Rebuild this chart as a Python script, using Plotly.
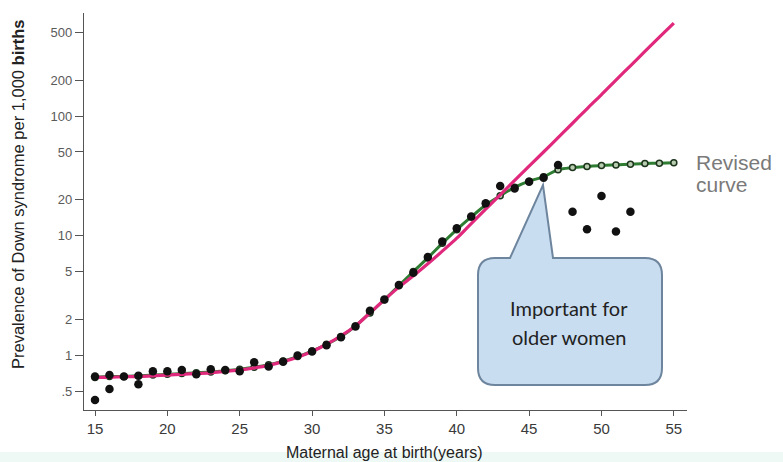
import plotly.graph_objects as go

# ---- data ----
ages = list(range(15, 56))

# old (pink) model curve, per 1,000 births
pink_vals = [0.65, 0.65, 0.66, 0.66, 0.67, 0.68, 0.69, 0.70, 0.71, 0.73,
             0.75, 0.78, 0.82, 0.88, 0.96, 1.07, 1.23, 1.45, 1.75, 2.25,
             2.9, 3.7, 4.6, 5.8, 7.4, 9.5, 12.6, 16.6, 21.9, 28.9,
             38.0, 50, 66, 87, 115, 151, 200, 263, 347, 457, 600]

# revised (green) curve
green_vals = [0.65, 0.66, 0.66, 0.67, 0.68, 0.69, 0.70, 0.71, 0.72, 0.74,
              0.76, 0.79, 0.83, 0.89, 0.97, 1.08, 1.23, 1.43, 1.75, 2.25,
              2.9, 3.8, 5.0, 6.5, 8.6, 11.2, 14.3, 18.0, 21.5, 25.3,
              28.5, 31.0, 35.5, 37.0, 37.8, 38.5, 39.0, 39.5, 40.0, 40.3, 40.6]

# observed prevalence (black dots)
obs_ages = list(range(15, 53)) + [15, 16, 18]
obs_vals = [0.66, 0.68, 0.66, 0.67, 0.73, 0.73, 0.75, 0.69, 0.76, 0.75,
            0.73, 0.87, 0.80, 0.88, 0.99, 1.07, 1.21, 1.41, 1.73, 2.35,
            2.92, 3.85, 4.88, 6.6, 8.9, 11.5, 14.4, 18.6, 26.0, 24.8,
            28.2, 30.5, 38.9, 15.8, 11.3, 21.4, 10.8, 15.8,
            0.42, 0.52, 0.57]

x_ticks = [15, 20, 25, 30, 35, 40, 45, 50, 55]
y_ticks = [0.5, 1, 2, 5, 10, 20, 50, 100, 200, 500]
y_tick_text = [".5", "1", "2", "5", "10", "20", "50", "100", "200", "500"]

# ---- figure ----
W, H = 783, 462
L, R, T, B = 84, 96, 13, 52
pw, ph = W - L - R, H - T - B


def P(x, y):
    return "%.5f,%.5f" % ((x - L) / pw, (H - B - y) / ph)


fig = go.Figure()

fig.add_trace(go.Scatter(
    x=ages, y=green_vals, mode="lines+markers",
    line=dict(color="#2E7D32", width=3, shape="spline"),
    marker=dict(symbol="circle", size=6, color="#b8cdb0",
                line=dict(color="#1c331c", width=1.5)),
    hoverinfo="skip"))

fig.add_trace(go.Scatter(
    x=ages, y=pink_vals, mode="lines",
    line=dict(color="#E0297C", width=3.2, shape="spline"),
    hoverinfo="skip"))

fig.add_trace(go.Scatter(
    x=obs_ages, y=obs_vals, mode="markers",
    marker=dict(symbol="circle", size=8.5, color="#111111"),
    hoverinfo="skip"))

# callout bubble
r = 17
x0, x1, y0, y1 = 478, 662, 258, 385
path = ("M " + P(x0 + r, y0) + " L " + P(510, y0) + " L " + P(543, 185) +
        " L " + P(553, y0) + " L " + P(x1 - r, y0) +
        " Q " + P(x1, y0) + " " + P(x1, y0 + r) +
        " L " + P(x1, y1 - r) +
        " Q " + P(x1, y1) + " " + P(x1 - r, y1) +
        " L " + P(x0 + r, y1) +
        " Q " + P(x0, y1) + " " + P(x0, y1 - r) +
        " L " + P(x0, y0 + r) +
        " Q " + P(x0, y0) + " " + P(x0 + r, y0) + " Z")

shapes = [
    dict(type="rect", xref="paper", yref="paper",
         x0=-L / pw, x1=(W - L) / pw, y0=-B / ph, y1=(H - B - 452) / ph,
         fillcolor="#EEF8F4", line=dict(width=0), layer="below"),
    dict(type="path", xref="paper", yref="paper", path=path,
         fillcolor="#C9DDF1", line=dict(color="#6E859E", width=2),
         layer="above"),
]


def ann(text, x, y, size, color, family, xanchor="center", angle=0):
    return dict(text=text, xref="paper", yref="paper",
                x=(x - L) / pw, y=(H - B - y) / ph, showarrow=False,
                xanchor=xanchor, yanchor="middle", textangle=angle,
                font=dict(size=size, color=color, family=family))


annotations = [
    ann("Important for", 569, 308, 20, "#222222", "Lato"),
    ann("older women", 569, 337, 20, "#222222", "Lato"),
    ann("Revised", 694, 162, 21, "#7a7a7a", "Liberation Sans", "left"),
    ann("curve", 694, 184, 21, "#7a7a7a", "Liberation Sans", "left"),
    ann("Prevalence of Down syndrome per 1,000 <b>births</b>", 18, 195, 16.5,
        "#222222", "Liberation Sans", angle=-90),
    ann("Maternal age at birth(years)", 384, 452, 16, "#222222",
        "Liberation Sans"),
]

fig.update_layout(
    width=W, height=H,
    margin=dict(l=L, r=R, t=T, b=B, pad=0),
    paper_bgcolor="white", plot_bgcolor="white",
    showlegend=False, hovermode=False,
    shapes=shapes, annotations=annotations,
    xaxis=dict(range=[14.24, 55.91], tickvals=x_ticks,
               showgrid=False, zeroline=False, showline=True,
               linecolor="#555555", linewidth=1.2,
               ticks="outside", ticklen=5, tickcolor="#555555",
               tickfont=dict(size=15, color="#3a3a3a",
                             family="Liberation Sans")),
    yaxis=dict(type="log", range=[-0.460, 2.862], tickvals=y_ticks,
               ticktext=y_tick_text,
               showgrid=False, zeroline=False, showline=True,
               linecolor="#555555", linewidth=1.2,
               ticks="outside", ticklen=8, tickcolor="#555555",
               tickfont=dict(size=13, color="#5a5a5a",
                             family="Liberation Sans")),
)

fig.write_html("out.html")
